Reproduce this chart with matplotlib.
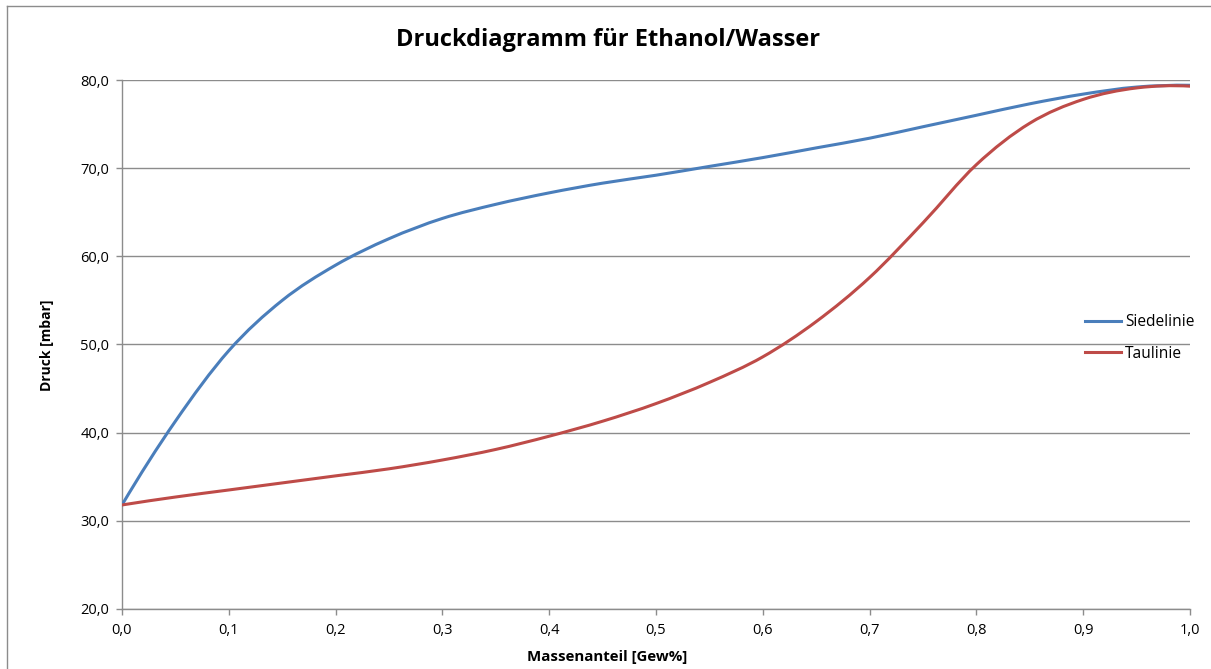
import numpy as np
import matplotlib
matplotlib.use("Agg")
import matplotlib.pyplot as plt
from matplotlib.path import Path
from matplotlib.patches import PathPatch
from matplotlib.lines import Line2D
from matplotlib.ticker import FuncFormatter, MultipleLocator

plt.rcParams['font.family'] = ['Open Sans', 'DejaVu Sans']

# ---- data ----
massenanteil = [0.00, 0.05, 0.10, 0.15, 0.20, 0.25, 0.30, 0.35, 0.40, 0.45, 0.50,
                0.55, 0.60, 0.65, 0.70, 0.75, 0.80, 0.85, 0.90, 0.95, 1.00]
siedelinie = [31.8, 41.3, 49.3, 55.0, 59.0, 62.0, 64.3, 65.9, 67.2, 68.3, 69.2,
              70.2, 71.2, 72.3, 73.4, 74.7, 76.0, 77.3, 78.4, 79.2, 79.4]
taulinie = [31.8, 32.7, 33.5, 34.3, 35.1, 35.9, 36.9, 38.1, 39.6, 41.3, 43.3,
            45.7, 48.6, 52.6, 57.6, 63.8, 70.4, 75.1, 77.8, 79.1, 79.3]
series_names = ["Siedelinie", "Taulinie"]
series_colors = ["#4A7EBB", "#BE4B48"]

title = "Druckdiagramm für Ethanol/Wasser"
xlabel = "Massenanteil [Gew%]"
ylabel = "Druck [mbar]"

W, H = 1211, 669
fig = plt.figure(figsize=(W / 100, H / 100), dpi=100)
ax = fig.add_axes([122 / W, 1 - 609 / H, (1190 - 122) / W, (609 - 80) / H])


def smooth_path(xs, ys):
    """Cubic Hermite curve through the points, drawn as Bezier segments."""
    x = np.asarray(xs, float)
    y = np.asarray(ys, float)
    n = len(x)
    d = np.zeros(n)
    for i in range(1, n - 1):
        h0, h1 = x[i] - x[i - 1], x[i + 1] - x[i]
        d[i] = (h1 * (y[i] - y[i - 1]) / h0 + h0 * (y[i + 1] - y[i]) / h1) / (h0 + h1)
    h0, h1 = x[1] - x[0], x[2] - x[1]
    d[0] = ((2 * h0 + h1) * (y[1] - y[0]) / h0 - h0 * (y[2] - y[1]) / h1) / (h0 + h1)
    h0, h1 = x[-2] - x[-3], x[-1] - x[-2]
    d[-1] = ((2 * h1 + h0) * (y[-1] - y[-2]) / h1 - h1 * (y[-2] - y[-3]) / h0) / (h0 + h1)
    verts = [(x[0], y[0])]
    codes = [Path.MOVETO]
    for i in range(n - 1):
        h = x[i + 1] - x[i]
        verts += [(x[i] + h / 3, y[i] + d[i] * h / 3),
                  (x[i + 1] - h / 3, y[i + 1] - d[i + 1] * h / 3),
                  (x[i + 1], y[i + 1])]
        codes += [Path.CURVE4] * 3
    return Path(verts, codes)


grid_col = "#8C8C8C"
for ys, col in zip([siedelinie, taulinie], series_colors):
    patch = PathPatch(smooth_path(massenanteil, ys), fill=False, edgecolor=col,
                      linewidth=2.2, capstyle='round', joinstyle='round', zorder=3)
    ax.add_patch(patch)

ax.set_xlim(0, 1)
ax.set_ylim(20, 80)
ax.xaxis.set_major_locator(MultipleLocator(0.1))
ax.yaxis.set_major_locator(MultipleLocator(10))
fmt = FuncFormatter(lambda v, p: f"{v:.1f}".replace(".", ","))
ax.xaxis.set_major_formatter(fmt)
ax.yaxis.set_major_formatter(fmt)

ax.grid(axis='y', color=grid_col, linewidth=1.0)
ax.set_axisbelow(True)
for s in ['top', 'right']:
    ax.spines[s].set_visible(False)
for s in ['left', 'bottom']:
    ax.spines[s].set_color(grid_col)
    ax.spines[s].set_linewidth(1.0)
ax.tick_params(axis='both', direction='out', length=4, width=1.0, color=grid_col,
               labelsize=10.5, labelcolor='black')
ax.tick_params(axis='y', pad=5)
ax.tick_params(axis='x', pad=6)

fig.text(608 / W, 1 - 40 / H, title, ha='center', va='center',
         fontsize=17, fontweight='bold')
fig.text(607 / W, 1 - 657 / H, xlabel, ha='center', va='center',
         fontsize=10.8, fontweight='bold')
fig.text(47 / W, 1 - 345 / H, ylabel, ha='center', va='center',
         fontsize=10, fontweight='bold', rotation=90)

handles = [Line2D([], [], color=c, linewidth=2.2) for c in series_colors]
leg = ax.legend(handles, series_names, loc='center left',
                bbox_to_anchor=((1079 - 122) / (1190 - 122), 1 - (338 - 80) / (609 - 80)),
                frameon=False, fontsize=11.2, handlelength=2.3, handletextpad=0.25,
                labelspacing=1.0, borderaxespad=0)

# chart area border (left and top edges visible)
fig.add_artist(Line2D([7 / W, 7 / W], [0, 1 - 6 / H], transform=fig.transFigure,
                      color=grid_col, linewidth=1.0))
fig.add_artist(Line2D([7 / W, 1], [1 - 6 / H, 1 - 6 / H], transform=fig.transFigure,
                      color=grid_col, linewidth=1.0))

fig.savefig("out.png", dpi=100, facecolor='white')
